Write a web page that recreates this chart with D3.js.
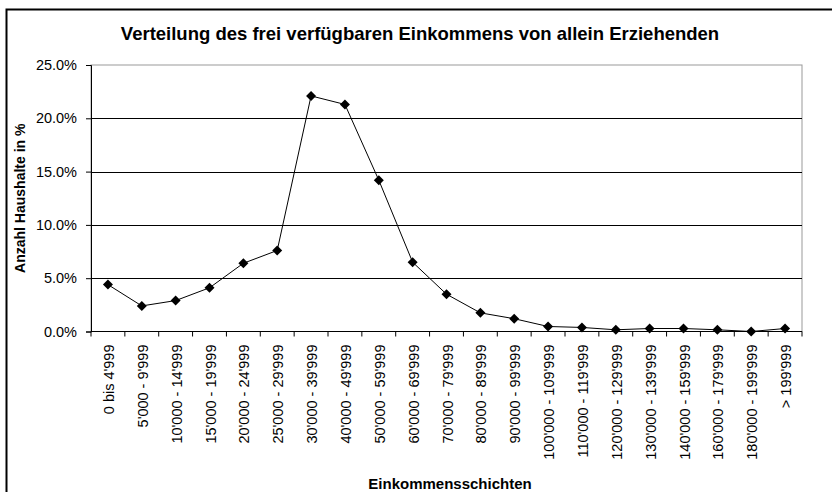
<!DOCTYPE html>
<html>
<head>
<meta charset="utf-8">
<script src="https://cdn.jsdelivr.net/npm/d3@7"></script>
<style>
  body { margin: 0; background: #fff; }
  svg { display: block; font-family: "Liberation Sans", Arial, sans-serif; }
</style>
</head>
<body>
<div id="chart"></div>
<script>
// Einkommensschichten (categories)
var categories = [
  "0 bis 4'999", "5'000 - 9'999", "10'000 - 14'999", "15'000 - 19'999",
  "20'000 - 24'999", "25'000 - 29'999", "30'000 - 39'999", "40'000 - 49'999",
  "50'000 - 59'999", "60'000 - 69'999", "70'000 - 79'999", "80'000 - 89'999",
  "90'000 - 99'999", "100'000 - 109'999", "110'000 - 119'999", "120'000 - 129'999",
  "130'000 - 139'999", "140'000 - 159'999", "160'000 - 179'999", "180'000 - 199'999",
  "> 199'999"
];
// Anzahl Haushalte in %
var shares = [
  4.4, 2.4, 2.9, 4.1, 6.4, 7.6, 22.1, 21.3, 14.2, 6.5, 3.5,
  1.75, 1.2, 0.47, 0.38, 0.16, 0.28, 0.28, 0.16, 0.0, 0.28
];
var yTicks = [0, 5, 10, 15, 20, 25];

var width = 832, height = 492;
var plot = { left: 91, right: 802, top: 65, bottom: 331.5 };

var svg = d3.select('#chart')
  .append('svg')
  .attr('width', width)
  .attr('height', height);

// outer chart frame (right and bottom cut off)
svg.append('path')
  .attr('d', 'M6.5,' + height + 'V9.5H' + width)
  .attr('fill', 'none')
  .attr('stroke', '#000')
  .attr('stroke-width', 2);

var x = d3.scaleBand()
  .domain(categories)
  .range([plot.left, plot.right]);

var y = d3.scaleLinear()
  .domain([0, 25])
  .range([plot.bottom, plot.top]);

// plot area border (grey)
svg.append('rect')
  .attr('x', plot.left)
  .attr('y', plot.top)
  .attr('width', plot.right - plot.left)
  .attr('height', plot.bottom - plot.top)
  .attr('fill', 'none')
  .attr('stroke', '#999')
  .attr('stroke-width', 1);

// gridlines
svg.selectAll('.grid')
  .data(yTicks.filter(function (d) { return d > 0 && d < 25; }))
  .enter()
  .append('line')
  .attr('class', 'grid')
  .attr('x1', plot.left)
  .attr('x2', plot.right)
  .attr('y1', function (d) { return Math.round(y(d)) + 0.5; })
  .attr('y2', function (d) { return Math.round(y(d)) + 0.5; })
  .attr('stroke', '#000')
  .attr('stroke-width', 1);

// y axis
var yAxis = svg.append('g')
  .attr('transform', 'translate(' + plot.left + ',0)')
  .call(d3.axisLeft(y)
    .tickValues(yTicks)
    .tickSize(5)
    .tickPadding(9)
    .tickFormat(function (d) { return d3.format('.1f')(d) + '%'; }));
yAxis.select('.domain').attr('stroke', '#000');
yAxis.selectAll('text')
  .attr('fill', '#000')
  .style('font-size', '14.5px');

// x axis: ticks at category boundaries
var xAxis = svg.append('g')
  .attr('transform', 'translate(0,' + plot.bottom + ')');
xAxis.append('line')
  .attr('x1', plot.left)
  .attr('x2', plot.right)
  .attr('stroke', '#000');
xAxis.selectAll('.xtick')
  .data(categories.concat(['end']))
  .enter()
  .append('line')
  .attr('class', 'xtick')
  .attr('x1', function (d, i) { return plot.left + i * x.step(); })
  .attr('x2', function (d, i) { return plot.left + i * x.step(); })
  .attr('y1', 0)
  .attr('y2', 5)
  .attr('stroke', '#000');
xAxis.selectAll('.xlabel')
  .data(categories)
  .enter()
  .append('text')
  .attr('class', 'xlabel')
  .attr('transform', function (d) {
    return 'translate(' + (x(d) + x.bandwidth() / 2 + 6) + ',13) rotate(-90)';
  })
  .attr('text-anchor', 'end')
  .style('font-size', '14.5px')
  .text(function (d) { return d; });

// series line
var line = d3.line()
  .x(function (d, i) { return x(categories[i]) + x.bandwidth() / 2; })
  .y(function (d) { return y(d); });

svg.append('path')
  .datum(shares)
  .attr('d', line)
  .attr('fill', 'none')
  .attr('stroke', '#000')
  .attr('stroke-width', 1);

svg.selectAll('.marker')
  .data(shares)
  .enter()
  .append('path')
  .attr('class', 'marker')
  .attr('d', 'M0,-5L5,0L0,5L-5,0Z')
  .attr('transform', function (d, i) {
    return 'translate(' + (x(categories[i]) + x.bandwidth() / 2) + ',' + y(d) + ')';
  })
  .attr('fill', '#000');

// title and axis titles
svg.append('text')
  .attr('x', 420)
  .attr('y', 40)
  .attr('text-anchor', 'middle')
  .style('font-size', '18.5px')
  .style('font-weight', 'bold')
  .text('Verteilung des frei verfügbaren Einkommens von allein Erziehenden');

svg.append('text')
  .attr('transform', 'translate(25,' + ((plot.top + plot.bottom) / 2) + ') rotate(-90)')
  .attr('text-anchor', 'middle')
  .style('font-size', '14px')
  .style('font-weight', 'bold')
  .text('Anzahl Haushalte in %');

svg.append('text')
  .attr('x', 450)
  .attr('y', 489)
  .attr('text-anchor', 'middle')
  .style('font-size', '15px')
  .style('font-weight', 'bold')
  .text('Einkommensschichten');
</script>
</body>
</html>
